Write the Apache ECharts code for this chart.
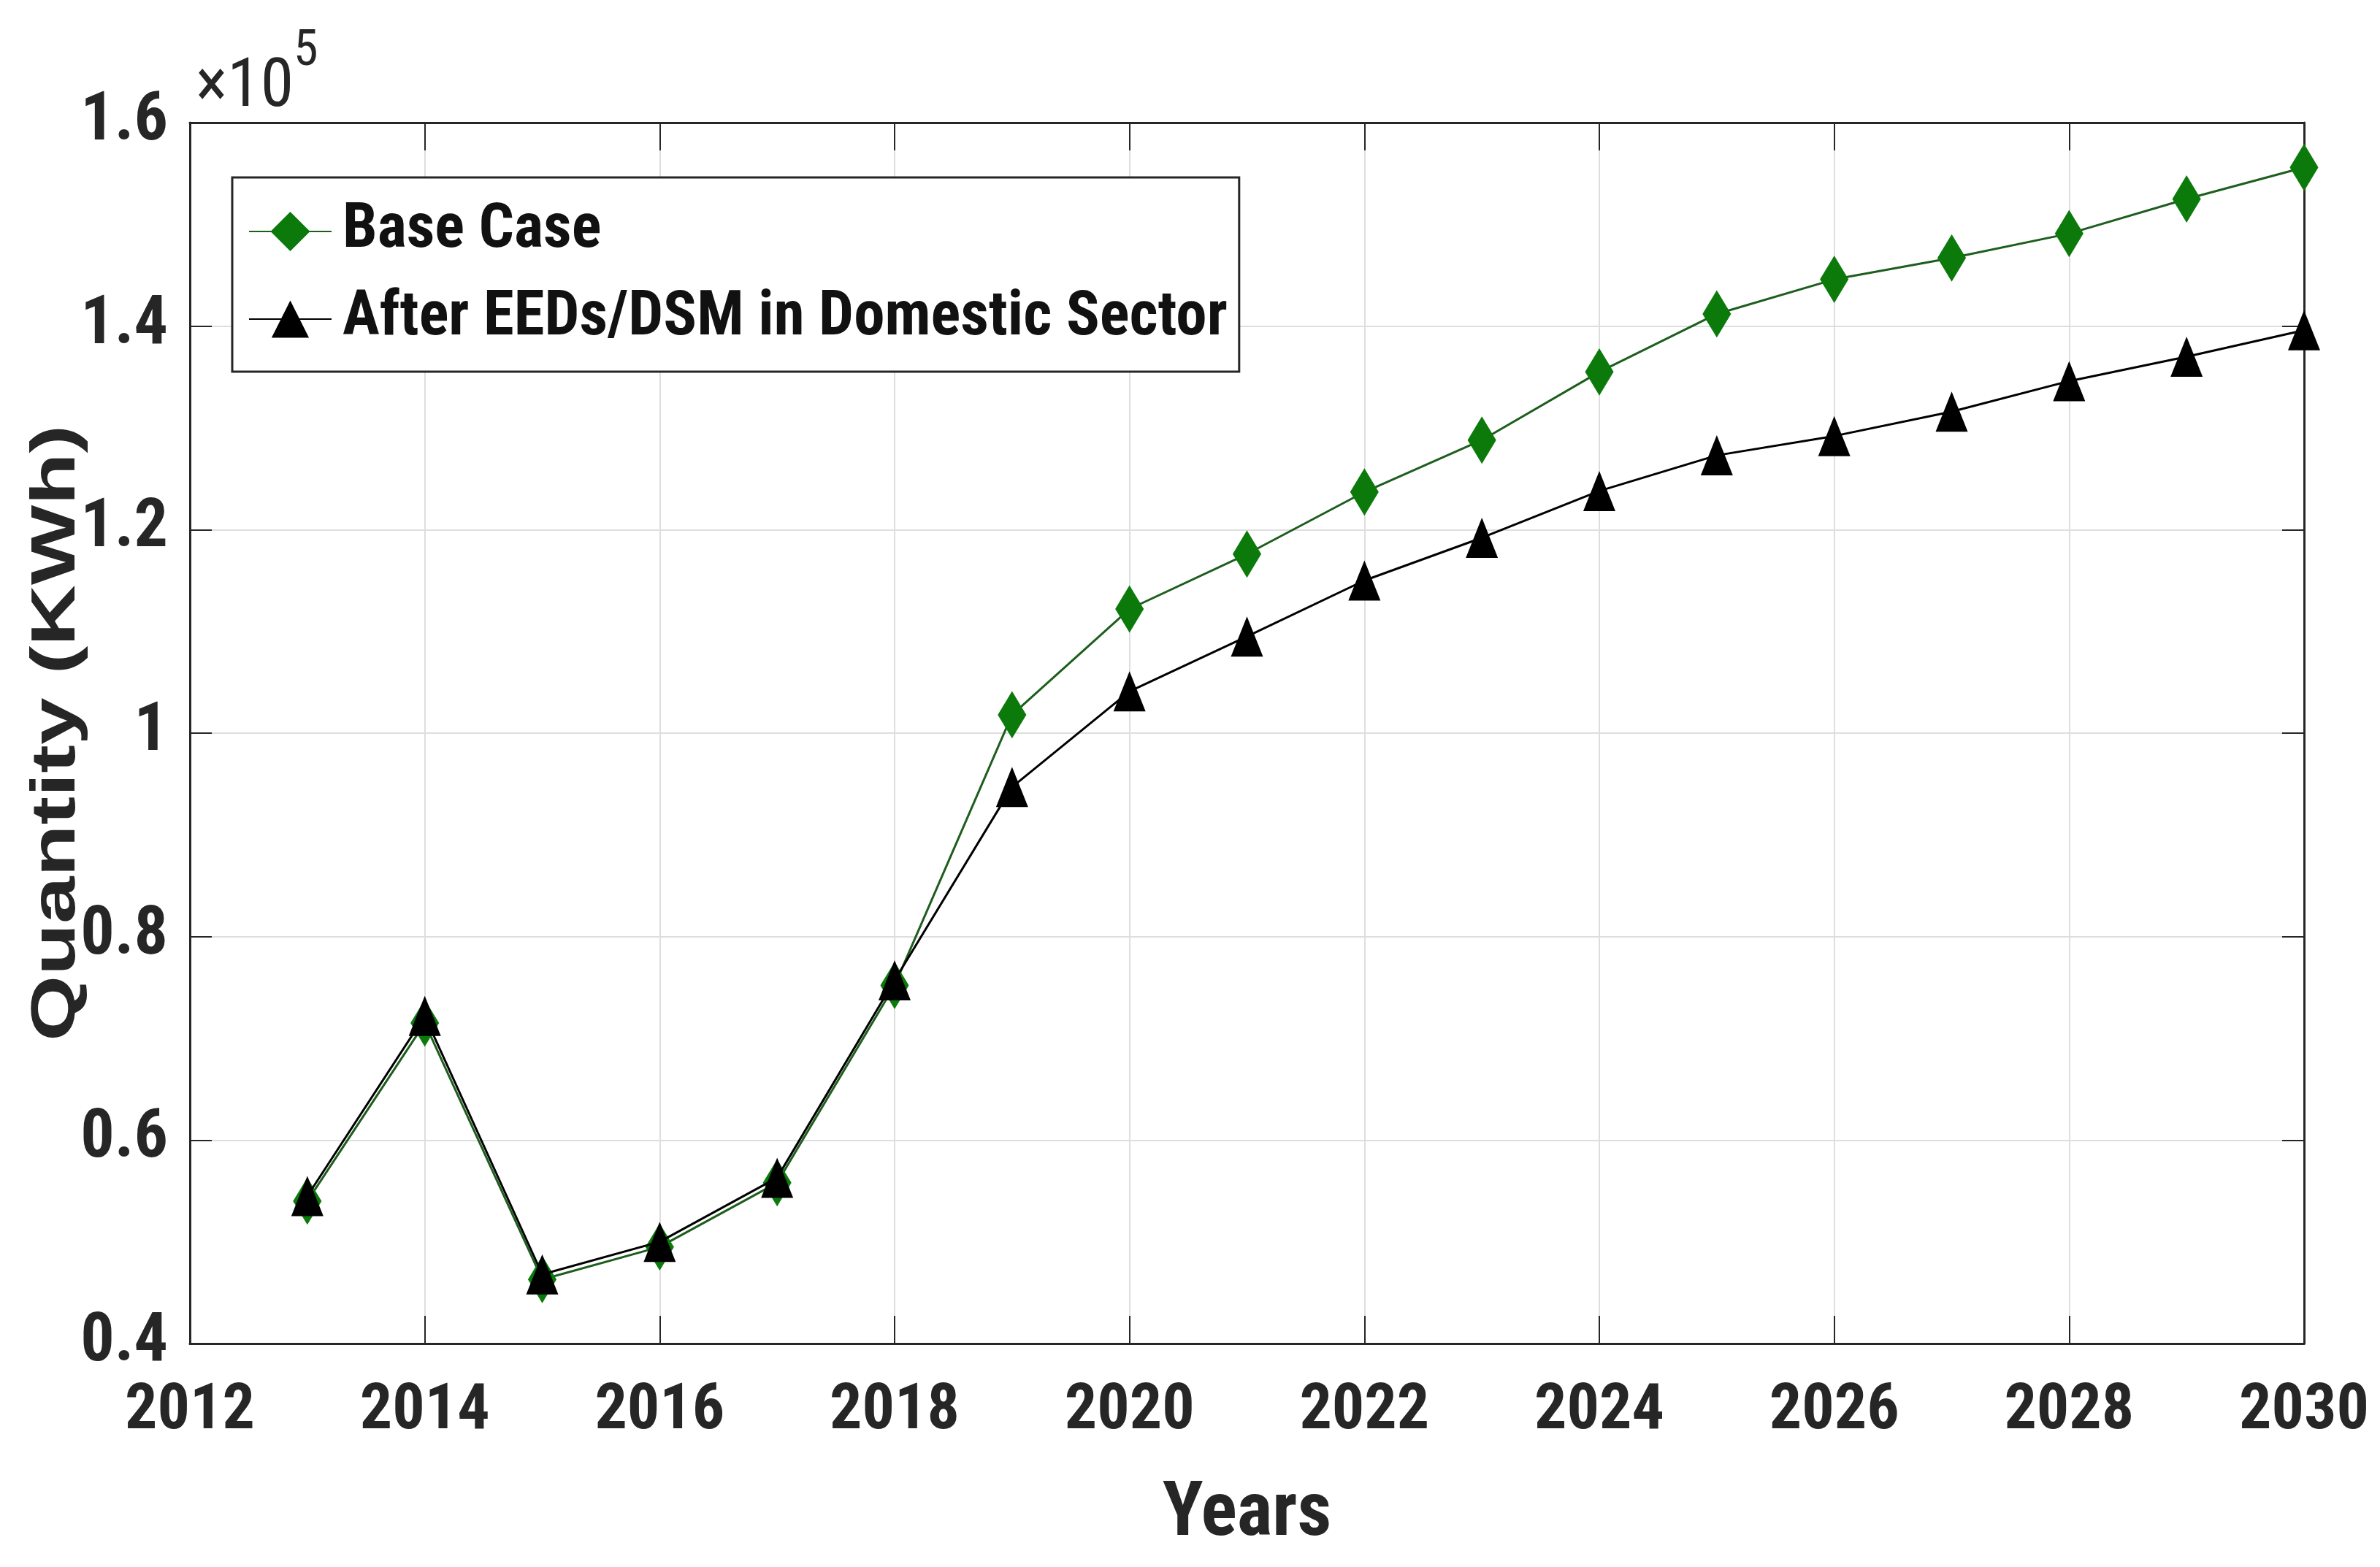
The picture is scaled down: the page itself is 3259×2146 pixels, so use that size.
<!DOCTYPE html>
<html>
<head>
<meta charset="utf-8">
<script src="https://cdn.jsdelivr.net/npm/echarts@6/dist/echarts.min.js"></script>
<style>
html,body{margin:0;padding:0;background:#fff;}
#chart{width:3259px;height:2146px;}
</style>
</head>
<body>
<div id="chart"></div>
<script>
const years = [2013,2014,2015,2016,2017,2018,2019,2020,2021,2022,2023,2024,2025,2026,2027,2028,2029,2030];
const baseCase = [54000,71500,46300,49500,55800,75200,101800,112200,117600,123700,128800,135500,141200,144600,146700,149100,152500,155600];
const afterEEDs = [54500,72200,46800,50000,56300,75700,94700,104100,109500,115000,119200,123800,127300,129200,131600,134600,137000,139600];
const seriesNames = ['Base Case','After EEDs/DSM in Domestic Sector'];
const xTicks = {min:2012,max:2030,step:2};
const yTicks = {min:40000,max:160000,step:20000};
const axisTitles = {x:'Years',y:'Quantity (KWh)',exponent:'×10',exponentPower:'5'};

const FONT = "'Roboto Condensed','Liberation Sans',Arial,sans-serif";
const WIDE = "'Liberation Sans',Arial,sans-serif";
const chart = echarts.init(document.getElementById('chart'));
const gridLine = {show:true,lineStyle:{color:'#dedede',width:2}};
const axLine = {show:true,lineStyle:{color:'#262626',width:3}};
const tickIn = (len)=>({show:true,inside:true,length:len,lineStyle:{color:'#262626',width:2}});

chart.setOption({
  backgroundColor:'#ffffff',
  animation:false,
  grid:{left:260,right:104,top:168,bottom:306,containLabel:false},
  legend:{
    orient:'vertical',left:318,top:243,
    padding:[30,16,28,22],itemGap:32,
    itemWidth:113,itemHeight:64,
    borderColor:'#262626',borderWidth:3,backgroundColor:'#ffffff',
    textStyle:{fontFamily:FONT,fontWeight:'bold',fontSize:85,lineHeight:88,color:'#111',padding:[0,0,0,10]},
    data:seriesNames
  },
  graphic:[{
    type:'text',x:268,y:122,
    style:{text:axisTitles.exponent,fontFamily:FONT,fontSize:92,fill:'#262626',verticalAlign:'middle',align:'left'}
  },{
    type:'text',x:402,y:72,
    style:{text:axisTitles.exponentPower,fontFamily:FONT,fontSize:68,fill:'#262626',verticalAlign:'middle',align:'left'}
  },{
    type:'text',x:78,y:1004,rotation:Math.PI/2,scaleY:0.74,
    style:{text:axisTitles.y,fontFamily:WIDE,fontWeight:'bold',fontSize:116,fill:'#262626',align:'center',verticalAlign:'middle'}
  }],
  xAxis:[{
    type:'value',min:xTicks.min,max:xTicks.max,interval:xTicks.step,
    name:axisTitles.x,nameLocation:'middle',nameGap:185,
    nameTextStyle:{fontFamily:FONT,fontWeight:'bold',fontSize:103,color:'#262626'},
    axisLine:axLine,axisTick:tickIn(38),splitLine:gridLine,
    axisLabel:{fontFamily:FONT,fontWeight:'bold',fontSize:88,color:'#262626',margin:50,formatter:v=>String(v)}
  },{
    type:'value',position:'top',min:xTicks.min,max:xTicks.max,interval:xTicks.step,
    axisLine:axLine,axisTick:tickIn(38),splitLine:{show:false},axisLabel:{show:false}
  }],
  yAxis:[{
    type:'value',min:yTicks.min,max:yTicks.max,interval:yTicks.step,
    axisLine:axLine,axisTick:tickIn(30),splitLine:gridLine,
    axisLabel:{fontFamily:FONT,fontWeight:'bold',fontSize:92,color:'#262626',margin:30,
      formatter:v=>String(+(v/100000).toFixed(1))}
  },{
    type:'value',position:'right',min:yTicks.min,max:yTicks.max,interval:yTicks.step,
    axisLine:axLine,axisTick:tickIn(30),splitLine:{show:false},axisLabel:{show:false}
  }],
  series:[{
    name:seriesNames[0],type:'line',
    data:years.map((y,i)=>[y,baseCase[i]]),
    symbol:'diamond',symbolSize:[38,63],
    lineStyle:{color:'#1d5e1d',width:3},
    itemStyle:{color:'#0b7a0b',borderColor:'#0b7a0b',borderWidth:1},
    z:3
  },{
    name:seriesNames[1],type:'line',
    data:years.map((y,i)=>[y,afterEEDs[i]]),
    symbol:'triangle',symbolSize:[44,55],
    lineStyle:{color:'#000000',width:3},
    itemStyle:{color:'#000000'},
    z:4
  }]
});
</script>
</body>
</html>
